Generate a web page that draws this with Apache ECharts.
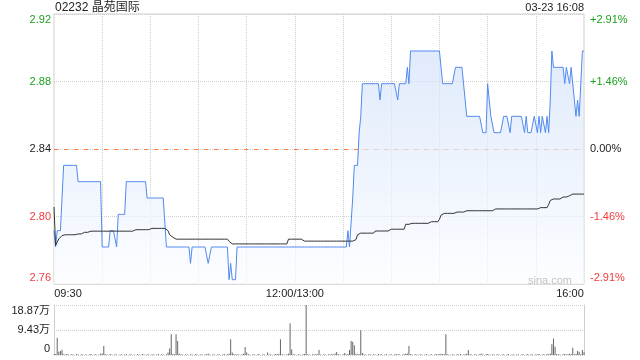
<!DOCTYPE html>
<html><head><meta charset="utf-8">
<script src="https://cdn.jsdelivr.net/npm/echarts@6/dist/echarts.min.js"></script>
<style>html,body{margin:0;padding:0;background:#fff}#c{width:640px;height:360px}</style>
</head><body><div id="c"></div>
<script>
const titleText = '02232 晶苑国际';
const stampText = '03-23 16:08';
const watermark = 'sina.com';
const prevClose = 2.84;
const pctRange = 2.91;
const volMax = 188700;
const volTickLabels = ['0', '9.43万', '18.87万'];
const xTickIdx = [0, 150, 330];
const xTickText = ['09:30', '12:00/13:00', '16:00'];

const price = [
2.79,2.78,2.79,2.79,2.79,2.81,2.83,2.83,2.83,2.83,
2.83,2.83,2.83,2.83,2.83,2.82,2.82,2.82,2.82,2.82,
2.82,2.82,2.82,2.82,2.82,2.82,2.82,2.82,2.82,2.82,
2.78,2.78,2.78,2.78,2.78,2.79,2.79,2.79,2.79,2.78,
2.80,2.80,2.80,2.80,2.80,2.82,2.82,2.82,2.82,2.82,
2.82,2.82,2.82,2.82,2.82,2.82,2.82,2.82,2.81,2.81,
2.81,2.81,2.81,2.81,2.81,2.81,2.81,2.81,2.81,2.81,
2.78,2.78,2.78,2.78,2.78,2.78,2.78,2.78,2.78,2.78,
2.78,2.78,2.78,2.78,2.78,2.77,2.78,2.78,2.78,2.78,
2.78,2.78,2.78,2.78,2.78,2.78,2.77,2.77,2.78,2.78,
2.78,2.78,2.78,2.78,2.78,2.78,2.78,2.78,2.78,2.76,
2.77,2.76,2.76,2.76,2.78,2.78,2.78,2.78,2.78,2.78,
2.78,2.78,2.78,2.78,2.78,2.78,2.78,2.78,2.78,2.78,
2.78,2.78,2.78,2.78,2.78,2.78,2.78,2.78,2.78,2.78,
2.78,2.78,2.78,2.78,2.78,2.78,2.78,2.78,2.78,2.78,
2.78,2.78,2.78,2.78,2.78,2.78,2.78,2.78,2.78,2.78,
2.78,2.78,2.78,2.78,2.78,2.78,2.78,2.78,2.78,2.78,
2.78,2.78,2.78,2.78,2.78,2.78,2.78,2.78,2.78,2.78,
2.78,2.78,2.78,2.79,2.78,2.78,2.81,2.83,2.83,2.83,
2.85,2.86,2.88,2.88,2.88,2.88,2.88,2.88,2.88,2.88,
2.88,2.88,2.88,2.87,2.88,2.88,2.88,2.88,2.88,2.88,
2.88,2.88,2.88,2.88,2.87,2.88,2.88,2.88,2.88,2.88,
2.89,2.88,2.90,2.90,2.90,2.90,2.90,2.90,2.90,2.90,
2.90,2.90,2.90,2.90,2.90,2.90,2.90,2.90,2.90,2.90,
2.90,2.89,2.88,2.88,2.88,2.88,2.88,2.88,2.88,2.88,
2.89,2.89,2.89,2.89,2.89,2.89,2.87,2.86,2.86,2.86,
2.86,2.86,2.86,2.86,2.86,2.86,2.86,2.85,2.85,2.85,
2.88,2.88,2.86,2.86,2.85,2.85,2.85,2.85,2.85,2.85,
2.86,2.86,2.86,2.86,2.85,2.86,2.86,2.86,2.86,2.86,
2.86,2.86,2.86,2.85,2.86,2.85,2.85,2.85,2.85,2.86,
2.86,2.85,2.86,2.85,2.86,2.86,2.85,2.86,2.85,2.87,
2.90,2.89,2.89,2.89,2.89,2.89,2.89,2.89,2.88,2.89,
2.89,2.88,2.89,2.89,2.87,2.86,2.87,2.86,2.86,2.90,
2.90
];

const avgPrice = [
2.8045,2.781,2.783,2.785,2.786,2.787,2.7875,2.7875,2.7875,2.7875,
2.7875,2.7875,2.7875,2.7875,2.7875,2.788,2.788,2.788,2.789,2.789,
2.789,2.789,2.789,2.7897,2.7897,2.7897,2.7897,2.7897,2.7897,2.7897,
2.7897,2.7897,2.7897,2.7897,2.7897,2.7897,2.7897,2.7897,2.7897,2.7897,
2.7897,2.7897,2.7897,2.7897,2.7897,2.7897,2.7897,2.7897,2.7897,2.7897,
2.7906,2.7906,2.7906,2.7906,2.7906,2.7906,2.7906,2.7906,2.7906,2.7906,
2.7914,2.7914,2.7914,2.7914,2.7914,2.7914,2.7914,2.7914,2.7914,2.7914,
2.7914,2.790,2.7875,2.787,2.786,2.785,2.7848,2.7848,2.7848,2.7848,
2.7848,2.7848,2.7848,2.7848,2.7848,2.7848,2.7848,2.7848,2.7848,2.7848,
2.7848,2.7848,2.7848,2.7848,2.7848,2.7848,2.7848,2.7848,2.7848,2.7848,
2.7848,2.7848,2.7848,2.7848,2.7848,2.7848,2.7848,2.7848,2.7848,2.7835,
2.7825,2.7819,2.7819,2.7819,2.7819,2.7819,2.7819,2.7819,2.7819,2.7819,
2.7819,2.7819,2.7819,2.7819,2.7819,2.7819,2.7819,2.7819,2.7819,2.7819,
2.7819,2.7819,2.7819,2.7819,2.7819,2.7819,2.7819,2.7819,2.7819,2.7819,
2.7819,2.7819,2.7819,2.7819,2.7819,2.7819,2.7848,2.7848,2.7848,2.7848,
2.7848,2.7848,2.7848,2.7848,2.7848,2.7848,2.7836,2.7836,2.7836,2.7836,
2.7836,2.7836,2.7836,2.7836,2.7836,2.7836,2.7836,2.7836,2.7836,2.7836,
2.7836,2.7836,2.7836,2.7836,2.7836,2.7836,2.7836,2.7836,2.7836,2.7836,
2.7836,2.7836,2.7836,2.7836,2.7836,2.7836,2.7836,2.7836,2.7845,2.7875,
2.7885,2.7885,2.7885,2.7885,2.7885,2.7885,2.7885,2.7885,2.7885,2.7885,
2.7898,2.7898,2.7898,2.7898,2.7898,2.7898,2.7898,2.7898,2.7898,2.7898,
2.7909,2.7909,2.7909,2.7909,2.7909,2.7909,2.7909,2.7909,2.7909,2.7939,
2.7939,2.7939,2.7939,2.7945,2.7945,2.7945,2.7945,2.7945,2.7945,2.7945,
2.7945,2.7945,2.7945,2.7945,2.7955,2.7955,2.7955,2.7955,2.7955,2.7955,
2.797,2.7995,2.8006,2.8006,2.8006,2.8006,2.8006,2.8006,2.8006,2.8006,
2.8006,2.8014,2.8014,2.8014,2.8014,2.8014,2.8022,2.8022,2.8022,2.8022,
2.8022,2.8022,2.8022,2.8022,2.8022,2.8022,2.8022,2.8022,2.8022,2.8022,
2.8022,2.8022,2.8022,2.8022,2.8033,2.8033,2.8033,2.8033,2.8033,2.8033,
2.8033,2.8033,2.8033,2.8033,2.8033,2.8033,2.8033,2.8033,2.8033,2.8033,
2.8033,2.8033,2.8033,2.8033,2.8033,2.8033,2.8033,2.8033,2.8033,2.8033,
2.8033,2.8033,2.8033,2.8041,2.8041,2.8041,2.8041,2.8041,2.806,2.8085,
2.8094,2.8094,2.8094,2.8094,2.8094,2.8094,2.8094,2.8106,2.8106,2.8106,
2.8106,2.8114,2.8114,2.8124,2.8124,2.8124,2.8124,2.8124,2.8124,2.8124,
2.8124
];

const volume = [
3000,4000,65000,12000,15000,20000,3000,2000,4000,2000,
0,3000,2000,0,4000,2000,0,3000,2000,0,
3000,0,2000,4000,0,2000,3000,0,2000,5000,
6000,34000,3000,2000,0,4000,2000,0,3000,2000,
0,2000,3000,0,2000,4000,0,2000,3000,0,
2000,0,3000,2000,0,4000,2000,0,3000,2000,
0,3000,2000,0,2000,4000,0,3000,2000,0,
3000,9000,25000,78000,4000,3000,78000,53000,5000,3000,
2000,0,3000,2000,0,3000,2000,0,4000,2000,
0,2000,3000,0,2000,3000,5000,2000,0,3000,
2000,0,3000,2000,0,2000,4000,0,3000,5000,
59000,9000,4000,2000,3000,2000,0,3000,5000,30000,
9000,3000,2000,0,3000,2000,0,4000,2000,0,
3000,2000,0,9000,2000,3000,0,2000,4000,3000,
5000,59000,3000,2000,0,3000,5000,120000,21000,3000,
2000,0,3000,2000,0,3000,4000,188700,3000,2000,
0,3000,2000,4000,3000,19000,2000,0,3000,2000,
0,3000,2000,4000,2000,6000,11000,3000,2000,0,
3000,8000,2000,4000,19000,53000,50000,37000,5000,3000,
4000,93000,8000,3000,2000,0,3000,2000,0,3000,
2000,0,4000,2000,3000,0,2000,3000,0,2000,
3000,0,2000,4000,2000,3000,0,2000,3000,5000,
6000,34000,3000,2000,0,3000,2000,0,3000,2000,
0,2000,3000,0,2000,3000,0,2000,4000,2000,
3000,5000,4000,3000,78000,3000,2000,0,3000,2000,
0,3000,2000,4000,0,2000,3000,5000,19000,3000,
2000,0,3000,2000,0,3000,6000,2000,0,3000,
4000,2000,0,3000,2000,0,3000,2000,0,2000,
3000,0,2000,4000,0,2000,3000,0,2000,3000,
0,2000,3000,0,2000,4000,0,3000,2000,0,
3000,2000,4000,0,2000,3000,0,4000,3000,5000,
41000,62000,31000,4000,3000,2000,0,3000,4000,2000,
3000,5000,4000,27000,3000,5000,15000,12000,3000,19000,
10000
];

// minute categories 09:30-12:00, 13:01-16:00
const times = [];
function hm(m){ const h = Math.floor(m/60), mm = m%60; return (h<10?'0':'')+h+':'+(mm<10?'0':'')+mm; }
for (let m = 570; m <= 720; m++) times.push(hm(m));
for (let m = 781; m <= 960; m++) times.push(hm(m));

if (price.length !== times.length || avgPrice.length !== times.length || volume.length !== times.length) {
  throw new Error('length mismatch ' + times.length + ' ' + price.length + ' ' + avgPrice.length + ' ' + volume.length);
}

const PMIN = prevClose * (1 - pctRange/100);
const PMAX = prevClose * (1 + pctRange/100);
const GREEN = '#1c9f1c', RED = '#f23a3a', DARK = '#222';
const FONT = 'Arial, "Liberation Sans", "Noto Sans CJK SC", sans-serif';
const GRIDC = '#cfcfcf';
const PREVC = '#ff7f3f';
const NONE = 'rgba(0,0,0,0)';

function richFor(color){
  return {
    n: {color: color, fontSize: 11, fontFamily: FONT},
    t: {color: color, fontSize: 11, fontFamily: FONT, padding: [11,0,0,0]},
    b: {color: color, fontSize: 11, fontFamily: FONT, padding: [0,0,12,0]}
  };
}
const rich = {
  gn: {color: GREEN, fontSize: 11, fontFamily: FONT},
  gt: {color: GREEN, fontSize: 11, fontFamily: FONT, padding: [11,0,0,0]},
  kn: {color: DARK, fontSize: 11, fontFamily: FONT},
  rn: {color: RED, fontSize: 11, fontFamily: FONT},
  rb: {color: RED, fontSize: 11, fontFamily: FONT, padding: [0,0,12,0]}
};
function styleKey(v){
  if (Math.abs(v) < 1e-9) return 'kn';
  if (v > 0) return (v >= pctRange - 1e-9) ? 'gt' : 'gn';
  return (v <= -pctRange + 1e-9) ? 'rb' : 'rn';
}

const chart = echarts.init(document.getElementById('c'), null, {renderer: 'canvas'});
chart.setOption({
  animation: false,
  textStyle: {fontFamily: FONT},
  title: [
    {text: titleText, left: 55, top: 2, padding: 0, textStyle: {fontSize: 12, fontWeight: 'normal', color: DARK, fontFamily: FONT}},
    {text: stampText, right: 56, top: 2, padding: 0, textStyle: {fontSize: 11, fontWeight: 'normal', color: DARK, fontFamily: FONT}}
  ],
  graphic: [
    {type: 'text', right: 68, top: 275, silent: true, z: 10, style: {text: watermark, fill: '#c4c4c4', font: '11px Arial'}}
  ],
  grid: [
    {left: 54, right: 56, top: 14, height: 270, show: true, borderColor: GRIDC, borderWidth: 1, backgroundColor: 'transparent'},
    {left: 54, right: 56, top: 305, height: 50}
  ],
  xAxis: [
    {
      type: 'category', gridIndex: 0, data: times, boundaryGap: false,
      axisLine: {show: false}, axisTick: {show: false},
      axisLabel: {
        interval: function(i){ return xTickIdx.indexOf(i) >= 0; },
        formatter: function(v, i){
          const k = xTickIdx.indexOf(i);
          if (k === 0) return '{l|' + xTickText[k] + '}';
          if (k === xTickIdx.length - 1) return '{r|' + xTickText[k] + '}';
          return '{c|' + xTickText[k] + '}';
        },
        margin: 4,
        rich: {
          l: {fontSize: 11, color: DARK, fontFamily: FONT, padding: [0,0,0,28]},
          c: {fontSize: 11, color: DARK, fontFamily: FONT},
          r: {fontSize: 11, color: DARK, fontFamily: FONT, padding: [0,28,0,0]}
        }
      },
      splitLine: {show: true, interval: function(i){ return i > 0 && i < times.length - 1 && i % 30 === 0; },
                  lineStyle: {color: GRIDC, type: 'dotted', width: 1}}
    },
    {
      type: 'category', gridIndex: 1, data: times, boundaryGap: false,
      axisLine: {show: false}, axisTick: {show: false}, axisLabel: {show: false}, splitLine: {show: false}
    }
  ],
  yAxis: [
    {type: 'value', gridIndex: 0, min: PMIN, max: PMAX, show: false, splitLine: {show: false}},
    {
      type: 'value', gridIndex: 0, position: 'left', min: -pctRange, max: pctRange, interval: pctRange/2,
      axisLine: {show: false}, axisTick: {show: false},
      axisLabel: {
        margin: 3,
        formatter: function(v){ return '{' + styleKey(v) + '|' + (prevClose * (1 + v/100)).toFixed(2) + '}'; },
        rich: rich
      },
      splitLine: {show: true, lineStyle: {color: GRIDC, type: 'dotted', width: 1}}
    },
    {
      type: 'value', gridIndex: 0, position: 'right', min: -pctRange, max: pctRange, interval: pctRange/2,
      axisLine: {show: false}, axisTick: {show: false},
      axisLabel: {
        margin: 6,
        formatter: function(v){
          const s = Math.abs(v) < 1e-9 ? '0.00%' : (v > 0 ? '+' : '') + v.toFixed(2) + '%';
          return '{' + styleKey(v) + '|' + s + '}';
        },
        rich: rich
      },
      splitLine: {show: true, lineStyle: {color: [NONE, NONE, PREVC, NONE, NONE], type: [4, 6], width: 1}}
    },
    {
      type: 'value', gridIndex: 1, position: 'left', min: 0, max: volMax, interval: volMax/2,
      axisLine: {show: true, lineStyle: {color: GRIDC, width: 1}}, axisTick: {show: false},
      axisLabel: {
        margin: 4,
        formatter: function(v, i){
          const key = i === 0 ? 'b' : (i === volTickLabels.length - 1 ? 't' : 'n');
          return '{' + key + '|' + volTickLabels[i] + '}';
        },
        rich: richFor(DARK)
      },
      splitLine: {show: true, lineStyle: {color: GRIDC, type: 'dotted', width: 1}}
    },
    {
      type: 'value', gridIndex: 1, position: 'right', min: 0, max: volMax,
      axisLine: {show: true, lineStyle: {color: GRIDC, width: 1}}, axisTick: {show: false},
      axisLabel: {show: false}, splitLine: {show: false}
    }
  ],
  series: [
    {
      name: 'price', type: 'line', xAxisIndex: 0, yAxisIndex: 0, data: price,
      symbol: 'none', smooth: false,
      lineStyle: {color: '#5089f0', width: 1},
      areaStyle: {origin: 'start', color: new echarts.graphic.LinearGradient(0, 0, 0, 1, [
        {offset: 0, color: '#d2e1f9'}, {offset: 1, color: '#fafcff'}
      ])},
      z: 2
    },
    {
      name: 'avg', type: 'line', xAxisIndex: 0, yAxisIndex: 0, data: avgPrice,
      symbol: 'none', lineStyle: {color: '#333', width: 1}, z: 3
    },
    {
      name: 'vol', type: 'bar', xAxisIndex: 1, yAxisIndex: 3, data: volume,
      barWidth: 1, itemStyle: {color: '#666'}
    }
  ]
});
</script>
</body></html>
